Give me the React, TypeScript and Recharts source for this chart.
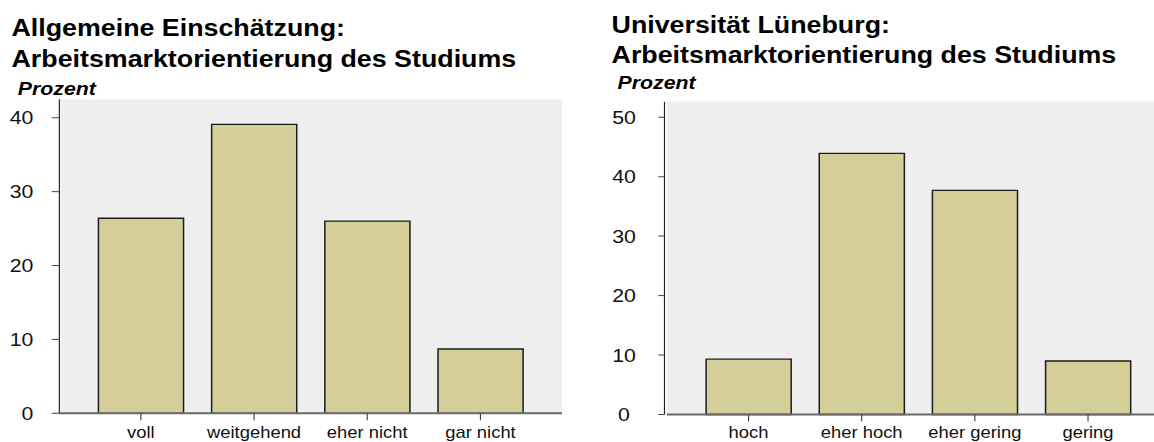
import React from "react";
import { BarChart, Bar, XAxis, YAxis, CartesianGrid } from "recharts";

// the source image is stretched horizontally, so the whole page is drawn narrow and widened
const STRETCH = 1.15;
const FONT = "Arial, 'Liberation Sans', Helvetica, sans-serif";

const leftTitle = ["Allgemeine Einschätzung:", "Arbeitsmarktorientierung des Studiums"];
const leftCategories = ["voll", "weitgehend", "eher nicht", "gar nicht"];
const leftValues = [26.4, 39.1, 26.0, 8.7];
const leftTicks = [0, 10, 20, 30, 40];

const rightTitle = ["Universität Lüneburg:", "Arbeitsmarktorientierung des Studiums"];
const rightCategories = ["hoch", "eher hoch", "eher gering", "gering"];
const rightValues = [9.3, 43.9, 37.7, 9.0];
const rightTicks = [0, 10, 20, 30, 40, 50];

const unitLabel = "Prozent";

type PanelProps = {
  categories: string[];
  values: number[];
  ticks: number[];
  yMax: number;
  left: number;
  width: number;
  yWidth: number;
  top: number;
  marginRight: number;
  xHeight: number;
  yTickSize: number;
  yTickMargin: number;
  yAnchor: "end" | "middle";
  xTickMargin: number;
  axisShift?: number;
};

function Panel({
  categories,
  values,
  ticks,
  yMax,
  left,
  width,
  yWidth,
  top,
  marginRight,
  xHeight,
  yTickSize,
  yTickMargin,
  yAnchor,
  xTickMargin,
  axisShift = 0,
}: PanelProps) {
  const rows = categories.map((name, i) => ({ name, value: values[i] }));
  const shift = axisShift ? `translate(${-axisShift},0)` : undefined;
  return (
    <div style={{ position: "absolute", left, top: 90 }}>
      <BarChart
        width={width}
        height={352}
        data={rows}
        margin={{ top, right: marginRight, bottom: 0, left: 0 }}
        barCategoryGap="12.5%"
        style={{ fontFamily: FONT }}
      >
        <CartesianGrid horizontal={false} vertical={false} fill="#efefef" fillOpacity={1} />
        <XAxis
          xAxisId="top"
          orientation="top"
          dataKey="name"
          height={0}
          tick={false}
          tickLine={false}
          axisLine={{ stroke: "#5e5e5e", strokeWidth: 1.6 }}
        />
        <YAxis
          yAxisId="right"
          orientation="right"
          width={0}
          tick={false}
          tickLine={false}
          axisLine={{ stroke: "#333" }}
        />
        <XAxis
          dataKey="name"
          height={xHeight}
          interval={0}
          tickSize={7}
          tickMargin={xTickMargin}
          padding={{ left: 21.7, right: 21.7 }}
          axisLine={{ stroke: "#6a6a6a", strokeWidth: 2 }}
          tickLine={{ stroke: "#444" }}
          tick={{ fontSize: 16, fill: "#111" }}
        />
        <YAxis
          type="number"
          domain={[0, yMax]}
          ticks={ticks}
          width={yWidth}
          tickSize={yTickSize}
          tickMargin={yTickMargin}
          axisLine={{ stroke: "#222", transform: shift }}
          tickLine={{ stroke: "#444", transform: shift }}
          tick={{ fontSize: 18.5, fill: "#111", textAnchor: yAnchor }}
        />
        <Bar dataKey="value" fill="#d4cf98" stroke="#1c1c1c" strokeWidth={1.3} isAnimationActive={false} />
      </BarChart>
    </div>
  );
}

function Heading({ lines, left, top, lineHeight }: { lines: string[]; left: number; top: number; lineHeight: number }) {
  return (
    <div
      style={{
        position: "absolute",
        left,
        top,
        fontFamily: FONT,
        fontWeight: "bold",
        fontSize: 23.3,
        lineHeight: `${lineHeight}px`,
        whiteSpace: "nowrap",
        color: "#000",
      }}
    >
      {lines.map((l) => (
        <div key={l}>{l}</div>
      ))}
    </div>
  );
}

function Unit({ left, top }: { left: number; top: number }) {
  return (
    <div
      style={{
        position: "absolute",
        left,
        top,
        fontFamily: FONT,
        fontWeight: "bold",
        fontStyle: "italic",
        fontSize: 18.5,
        lineHeight: "18.5px",
        whiteSpace: "nowrap",
        color: "#000",
      }}
    >
      {unitLabel}
    </div>
  );
}

export default function App() {
  return (
    <div
      style={{
        position: "absolute",
        left: 0,
        top: 0,
        width: 1154,
        height: 442,
        overflow: "hidden",
        background: "#fff",
      }}
    >
      <div
        style={{
          position: "absolute",
          left: 0,
          top: 0,
          width: 1154 / STRETCH,
          height: 442,
          transform: `scaleX(${STRETCH})`,
          transformOrigin: "0 0",
        }}
      >
        <Heading lines={leftTitle} left={10} top={13.3} lineHeight={30.6} />
        <Unit left={15.5} top={80.3} />
        <Panel
          categories={leftCategories}
          values={leftValues}
          ticks={leftTicks}
          yMax={42.5}
          left={0}
          width={500}
          yWidth={51.6}
          top={9.3}
          marginRight={11.3}
          xHeight={28.7}
          yTickSize={6.6}
          yTickMargin={16}
          yAnchor="end"
          xTickMargin={6}
        />

        <Heading lines={rightTitle} left={531.8} top={10.2} lineHeight={30} />
        <Unit left={537} top={73.6} />
        <Panel
          categories={rightCategories}
          values={rightValues}
          ticks={rightTicks}
          yMax={52.6}
          left={520}
          width={502}
          yWidth={60}
          top={11.7}
          marginRight={5}
          xHeight={27.5}
          yTickSize={5.4}
          yTickMargin={32}
          yAnchor="middle"
          xTickMargin={5}
          axisShift={2.2}
        />
      </div>
    </div>
  );
}
